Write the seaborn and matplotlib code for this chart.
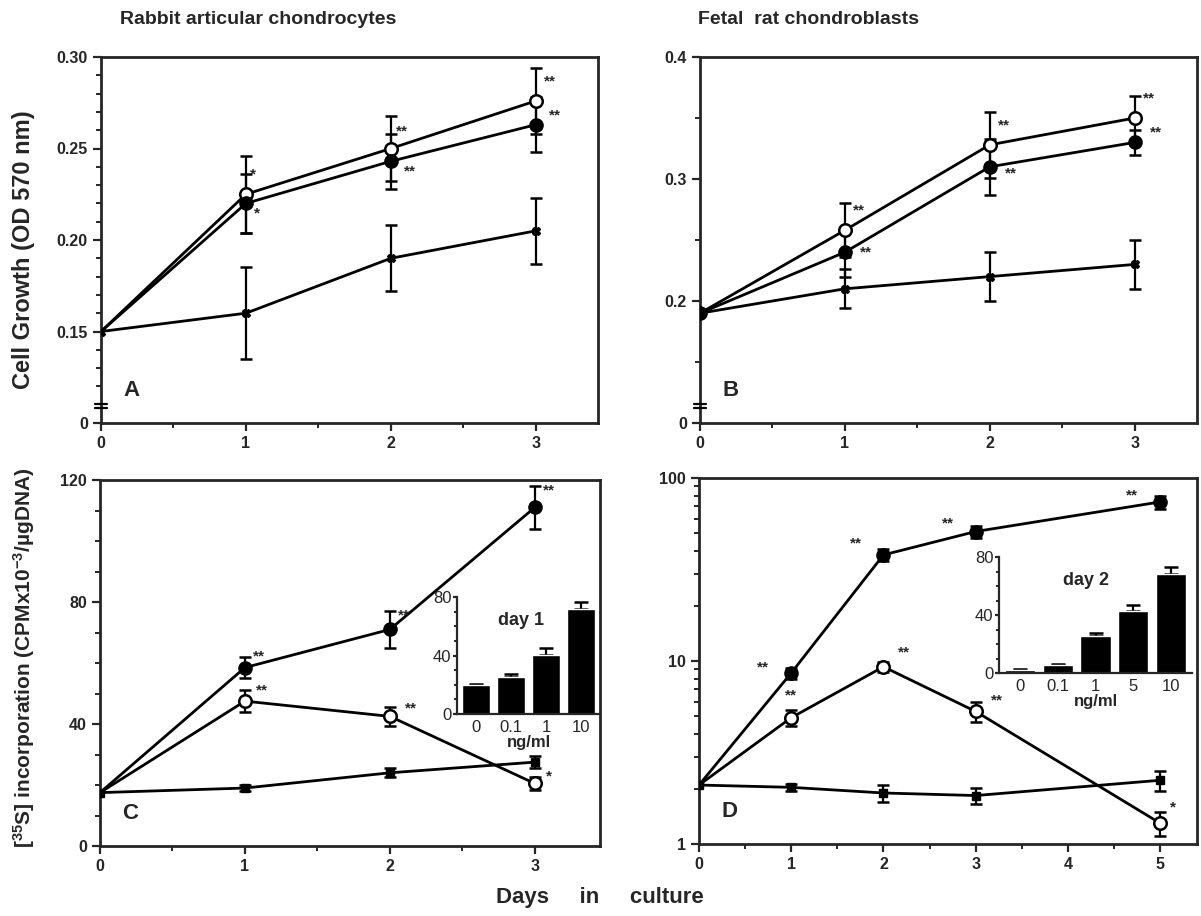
import numpy as np
import matplotlib
matplotlib.use('Agg')
import matplotlib.pyplot as plt
import matplotlib.transforms as mtransforms
from matplotlib.ticker import MultipleLocator, FixedLocator, NullFormatter
import seaborn as sns

# ---- data ----
days = [0, 1, 2, 3]
days_d = [0, 1, 2, 3, 5]

# A: rabbit articular chondrocytes, cell growth (OD 570 nm)
a_open = [0.150, 0.225, 0.250, 0.276]
a_open_err = [0, 0.021, 0.018, 0.018]
a_fill = [0.150, 0.220, 0.243, 0.263]
a_fill_err = [0, 0.016, 0.015, 0.015]
a_ctrl = [0.150, 0.160, 0.190, 0.205]
a_ctrl_err = [0, 0.025, 0.018, 0.018]
a_stars_open = ['', '*', '**', '**']
a_stars_fill = ['', '*', '**', '**']

# B: fetal rat chondroblasts, cell growth
b_open = [0.190, 0.258, 0.328, 0.350]
b_open_err = [0, 0.022, 0.027, 0.018]
b_fill = [0.190, 0.240, 0.310, 0.330]
b_fill_err = [0, 0.020, 0.023, 0.010]
b_ctrl = [0.190, 0.210, 0.220, 0.230]
b_ctrl_err = [0, 0.016, 0.020, 0.020]
b_stars_open = ['', '**', '**', '**']
b_stars_fill = ['', '**', '**', '**']

# C: rabbit, [35S] incorporation
c_open = [17.5, 47.5, 42.5, 20.5]
c_open_err = [0, 3.5, 3.0, 2.0]
c_fill = [17.5, 58.5, 71.0, 111.0]
c_fill_err = [0, 3.5, 6.0, 7.0]
c_ctrl = [17.5, 19.0, 24.0, 27.5]
c_ctrl_err = [0, 1.0, 1.5, 2.0]
c_stars_open = ['', '**', '**', '*']
c_stars_fill = ['', '**', '**', '**']

# D: fetal rat, [35S] incorporation (log scale)
d_open = [2.1, 4.9, 9.3, 5.3, 1.3]
d_open_err = [0, 0.5, 0.6, 0.65, 0.2]
d_fill = [2.1, 8.6, 38.0, 51.0, 74.0]
d_fill_err = [0, 0.6, 3.0, 4.0, 6.0]
d_ctrl = [2.1, 2.04, 1.90, 1.84, 2.23]
d_ctrl_err = [0, 0.1, 0.2, 0.18, 0.27]
d_stars_open = ['', '**', '**', '**', '*']
d_stars_fill = ['', '**', '**', '**', '**']

# insets: dose response
ins_c_dose = ['0', '0.1', '1', '10']
ins_c_val = [19.5, 25.5, 40.5, 71.5]
ins_c_err = [1.0, 1.8, 4.3, 5.2]
ins_d_dose = ['0', '0.1', '1', '5', '10']
ins_d_val = [2.3, 5.7, 25.5, 42.5, 68.5]
ins_d_err = [0.5, 0.6, 2.3, 4.1, 4.6]

# ---- style ----
sns.set_style('ticks')
plt.rcParams['font.family'] = ['Liberation Sans', 'DejaVu Sans']
plt.rcParams['font.weight'] = 'bold'
plt.rcParams['mathtext.default'] = 'regular'
plt.rcParams['axes.linewidth'] = 2
plt.rcParams['xtick.major.width'] = 1.6
plt.rcParams['ytick.major.width'] = 1.6
plt.rcParams['xtick.minor.width'] = 1.4
plt.rcParams['ytick.minor.width'] = 1.4
plt.rcParams['xtick.major.size'] = 6
plt.rcParams['ytick.major.size'] = 6
plt.rcParams['xtick.minor.size'] = 3.5
plt.rcParams['ytick.minor.size'] = 3.5

W, H = 1201, 916
fig = plt.figure(figsize=(W / 100, H / 100), dpi=100)


def box(l, t, r, b):
    return [l / W, 1 - b / H, (r - l) / W, (b - t) / H]


def series(ax, x, y, err, style, stars, offs, start=1):
    if style == 'open':
        kw = dict(marker='o', markersize=9, markerfacecolor='white', markeredgewidth=1.8)
    elif style == 'fill':
        kw = dict(marker='o', markersize=9.5, markerfacecolor='black', markeredgewidth=1)
    else:
        kw = dict(marker=style, markersize=6, markerfacecolor='black', markeredgewidth=1)
    sns.lineplot(x=x, y=y, ax=ax, color='black', lw=2, markevery=list(range(start, len(x))),
                 markeredgecolor='black', zorder=3, **kw)
    ax.errorbar(x[1:], y[1:], yerr=err[1:], fmt='none', ecolor='black',
                elinewidth=1.6, capsize=4, capthick=1.8, zorder=2)
    for xi, yi, s, o in zip(x, y, stars, offs):
        if s:
            ax.annotate(s, (xi, yi), xytext=o, textcoords='offset points',
                        fontsize=11, fontweight='bold', ha='center', va='center')


def axis_break(ax, yfrac):
    tr = mtransforms.blended_transform_factory(ax.transAxes, ax.transAxes)
    for dy in (0, 0.013):
        ax.plot([-0.012, 0.012], [yfrac + dy, yfrac + dy], color='black', lw=1.6,
                transform=tr, clip_on=False, zorder=5)


def finish(ax, letter):
    for s in ax.spines.values():
        s.set_linewidth(2)
    ax.tick_params(labelsize=11.5)
    for t in ax.get_xticklabels() + ax.get_yticklabels():
        t.set_fontweight('bold')
    ax.text(0.045, 0.075, letter, transform=ax.transAxes, fontsize=16, fontweight='bold')
    ax.set_xlabel('')
    ax.set_ylabel('')


# ---- A ----
axA = fig.add_axes(box(101, 57, 598, 423))
series(axA, days, a_open, a_open_err, 'open', a_stars_open,
       [(0, 0), (5, 14), (8, 12), (10, 14)])
series(axA, days, a_fill, a_fill_err, 'fill', a_stars_fill,
       [(0, 0), (8, -7), (14, -7), (14, 7)])
series(axA, days, a_ctrl, a_ctrl_err, 'X', ['', '', '', ''], [(0, 0)] * 4, start=0)
axA.set_xlim(0, 3.43)
axA.set_ylim(0.10, 0.30)
axA.yaxis.set_major_locator(FixedLocator([0.10, 0.15, 0.20, 0.25, 0.30]))
axA.set_yticklabels(['0', '0.15', '0.20', '0.25', '0.30'])
axA.yaxis.set_minor_locator(FixedLocator(np.arange(0.12, 0.30, 0.01)))
axA.set_xticks(days)
axA.xaxis.set_minor_locator(MultipleLocator(0.5))
axis_break(axA, 0.04)
finish(axA, 'A')

# ---- B ----
axB = fig.add_axes(box(700, 57, 1197, 423))
series(axB, days, b_open, b_open_err, 'open', b_stars_open,
       [(0, 0), (10, 14), (10, 14), (10, 14)])
series(axB, days, b_fill, b_fill_err, 'fill', b_stars_fill,
       [(0, 0), (15, 0), (15, -5), (15, 7)], start=0)
series(axB, days, b_ctrl, b_ctrl_err, 'X', ['', '', '', ''], [(0, 0)] * 4)
axB.set_xlim(0, 3.43)
axB.set_ylim(0.10, 0.40)
axB.yaxis.set_major_locator(FixedLocator([0.10, 0.20, 0.30, 0.40]))
axB.set_yticklabels(['0', '0.2', '0.3', '0.4'])
axB.yaxis.set_minor_locator(FixedLocator([0.15, 0.25, 0.35]))
axB.set_xticks(days)
axB.xaxis.set_minor_locator(MultipleLocator(0.5))
axis_break(axB, 0.04)
finish(axB, 'B')

# ---- C ----
axC = fig.add_axes(box(100, 480, 600, 846))
series(axC, days, c_fill, c_fill_err, 'fill', c_stars_fill,
       [(0, 0), (10, 8), (10, 10), (10, 12)])
series(axC, days, c_open, c_open_err, 'open', c_stars_open,
       [(0, 0), (12, 8), (15, 6), (10, 5)])
series(axC, days, c_ctrl, c_ctrl_err, 's', ['', '', '', ''], [(0, 0)] * 4, start=0)
axC.set_xlim(0, 3.45)
axC.set_ylim(0, 120)
axC.set_yticks([0, 40, 80, 120])
axC.yaxis.set_minor_locator(MultipleLocator(10))
axC.set_xticks(days)
axC.xaxis.set_minor_locator(MultipleLocator(0.5))
finish(axC, 'C')

# ---- D ----
axD = fig.add_axes(box(699, 478, 1197, 844))
series(axD, days_d, d_fill, d_fill_err, 'fill', d_stars_fill,
       [(-20, 4), (-20, 4), (-20, 8), (-20, 6), (-20, 5)])
series(axD, days_d, d_open, d_open_err, 'open', d_stars_open,
       [(0, 0), (0, 16), (15, 10), (15, 8), (9, 11)])
series(axD, days_d, d_ctrl, d_ctrl_err, 's', ['', '', '', '', ''], [(0, 0)] * 5, start=0)
axD.set_yscale('log')
axD.set_xlim(0, 5.4)
axD.set_ylim(1, 100)
axD.set_yticks([1, 10, 100])
axD.set_yticklabels(['1', '10', '100'])
axD.yaxis.set_minor_formatter(NullFormatter())
axD.set_xticks([0, 1, 2, 3, 4, 5])
axD.xaxis.set_minor_locator(MultipleLocator(0.5))
finish(axD, 'D')


# ---- insets ----
def inset(rect, doses, vals, errs, label):
    ax = fig.add_axes(rect)
    sns.barplot(x=doses, y=vals, color='black', width=0.8, ax=ax, errorbar=None,
                saturation=1, zorder=2)
    ax.errorbar(range(len(doses)), vals, yerr=[[0] * len(errs), errs], fmt='none',
                ecolor='black', elinewidth=1.6, capsize=5, capthick=1.8, zorder=1)
    ax.set_ylim(0, 80)
    ax.set_xlim(-0.55, len(doses) - 0.45)
    ax.set_yticks([0, 40, 80])
    ax.yaxis.set_minor_locator(MultipleLocator(10))
    ax.spines['top'].set_visible(False)
    ax.spines['right'].set_visible(False)
    ax.spines['left'].set_linewidth(1.6)
    ax.spines['bottom'].set_linewidth(1.6)
    ax.patch.set_alpha(0)
    ax.tick_params(labelsize=12, length=3, pad=1)
    ax.tick_params(axis='x', length=0, pad=4)
    ax.tick_params(which='minor', length=2)
    for t in ax.get_xticklabels() + ax.get_yticklabels():
        t.set_fontweight('normal')
    ax.set_xlabel('ng/ml', fontsize=12, fontweight='bold', labelpad=0)
    ax.set_ylabel('')
    ax.text(0.45, 0.76, label, transform=ax.transAxes, fontsize=13,
            fontweight='bold', ha='center')
    return ax


inset(box(457, 597, 600, 714), ins_c_dose, ins_c_val, ins_c_err, 'day 1')
inset(box(999, 557, 1192, 673), ins_d_dose, ins_d_val, ins_d_err, 'day 2')

# ---- labels ----
fig.text(120 / W, 1 - 20 / H, 'Rabbit articular chondrocytes', fontsize=14,
         fontweight='bold', va='center', ha='left')
fig.text(698 / W, 1 - 20 / H, 'Fetal  rat chondroblasts', fontsize=14,
         fontweight='bold', va='center', ha='left')
fig.text(24 / W, 1 - 250 / H, 'Cell Growth (OD 570 nm)', fontsize=17,
         fontweight='bold', rotation=90, va='center', ha='center')
fig.text(24 / W, 1 - 658 / H, r'[$^{35}$S] incorporation (CPMx10$^{-3}$/µgDNA)',
         fontsize=15, fontweight='bold', rotation=90, va='center', ha='center')
fig.text(600 / W, 1 - 898 / H, 'Days     in     culture', fontsize=16,
         fontweight='bold', va='center', ha='center')

fig.savefig('out.png', dpi=100)
